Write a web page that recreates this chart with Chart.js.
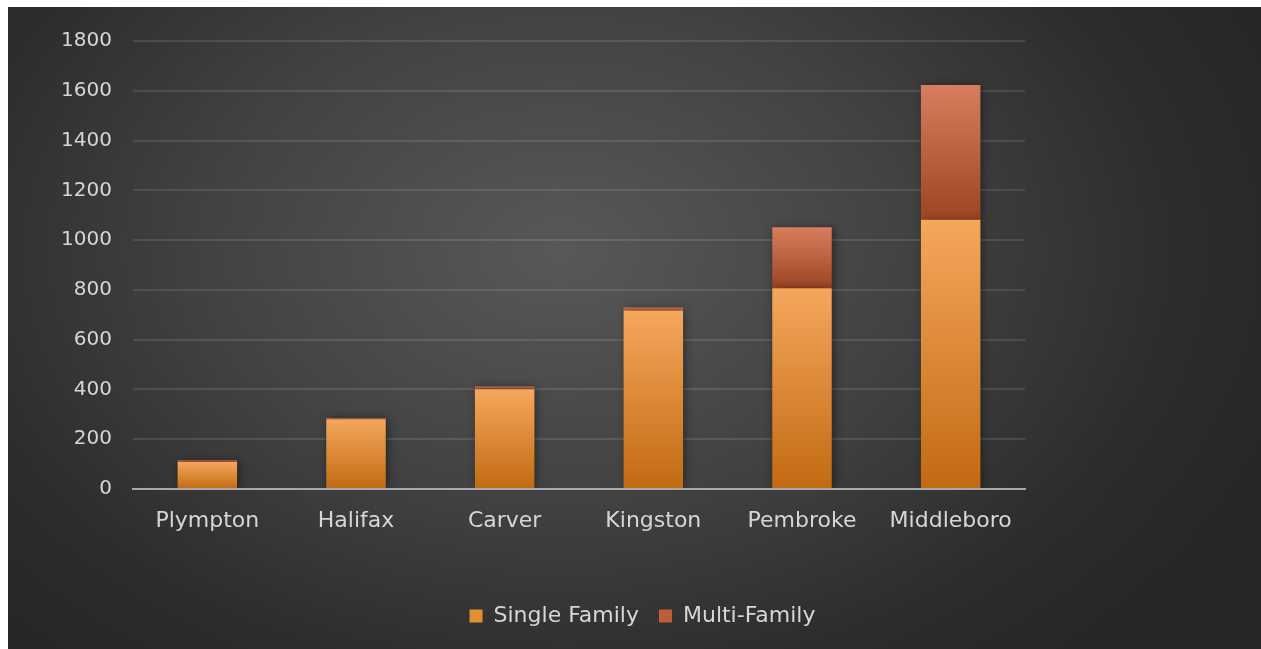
<!DOCTYPE html>
<html>
<head>
<meta charset="utf-8">
<script src="https://cdn.jsdelivr.net/npm/chart.js@4"></script>
<style>
  html, body { margin: 0; padding: 0; background: #ffffff; }
  .card {
    position: absolute;
    left: 8px;
    top: 7px;
    width: 1253px;
    height: 642px;
    background: radial-gradient(ellipse 62% 85% at 44% 38%, #585858 0%, #424242 45%, #2c2c2c 80%, #262626 100%);
  }
  #myChart { display: block; }
</style>
</head>
<body>
<div class="card"><canvas id="myChart" width="1253" height="642"></canvas></div>
<script>
const ctx = document.getElementById("myChart").getContext("2d");

const towns = ["Plympton", "Halifax", "Carver", "Kingston", "Pembroke", "Middleboro"];
const single_family = [108, 280, 401, 717, 807, 1082];
const multi_family = [8, 5, 11, 12, 245, 541];
const y_ticks = [0, 200, 400, 600, 800, 1000, 1200, 1400, 1600, 1800];

const text_color = "#d6d6d6";
const font_family = "'DejaVu Sans', sans-serif";

// per-bar vertical gradient, light on top, dark at the bottom
function barGradient(context, topColor, bottomColor, solid) {
  const chart = context.chart;
  const y = chart.scales.y;
  if (context.type !== "data" || !chart.chartArea || !y) return solid;
  const i = context.dataIndex;
  let from, to;
  if (context.datasetIndex === 0) {
    from = 0;
    to = single_family[i];
  } else {
    from = single_family[i];
    to = single_family[i] + multi_family[i];
  }
  const yTop = y.getPixelForValue(to);
  const yBottom = y.getPixelForValue(from);
  if (!isFinite(yTop) || !isFinite(yBottom) || yTop === yBottom) return solid;
  const g = chart.ctx.createLinearGradient(0, yTop, 0, yBottom);
  g.addColorStop(0, topColor);
  g.addColorStop(1, bottomColor);
  return g;
}

const barShadow = {
  id: "barShadow",
  beforeDatasetsDraw(chart) {
    const c = chart.ctx;
    c.save();
    c.shadowColor = "rgba(0,0,0,0.45)";
    c.shadowBlur = 9;
    c.shadowOffsetX = 2;
    c.shadowOffsetY = 1;
  },
  afterDatasetsDraw(chart) {
    chart.ctx.restore();
  },
};

// legend is centred on the whole card, not only the plot part
const legendWide = {
  id: "legendWide",
  afterLayout(chart) {
    const l = chart.legend;
    if (!l) return;
    l.left = 16;
    l.right = chart.width;
    l.width = l.right - l.left;
  },
};

const obj = {
  type: "bar",
  data: {
    labels: towns,
    datasets: [
      {
        label: "Single Family",
        data: single_family,
        backgroundColor: (c) => barGradient(c, "#f5a75c", "#c26a12", "#e38e33"),
        legendColor: "#e38e33",
        borderWidth: 0,
        categoryPercentage: 1,
        barPercentage: 0.4,
      },
      {
        label: "Multi-Family",
        data: multi_family,
        backgroundColor: (c) => barGradient(c, "#d87e5f", "#9c4522", "#bd5e3a"),
        legendColor: "#bd5e3a",
        borderWidth: 0,
        categoryPercentage: 1,
        barPercentage: 0.4,
      },
    ],
  },
  options: {
    responsive: false,
    animation: false,
    layout: {
      padding: { top: 34, right: 236, bottom: 12, left: 0 },
    },
    scales: {
      x: {
        stacked: true,
        grid: { display: false, drawTicks: false },
        border: { display: true, color: "#a9a9a9", width: 2, z: 1 },
        ticks: {
          color: text_color,
          padding: 19,
          font: { family: font_family, size: 22 },
          maxRotation: 0,
        },
        afterFit: (s) => { s.height = 96; },
      },
      y: {
        stacked: true,
        min: 0,
        max: 1800,
        afterBuildTicks: (s) => { s.ticks = y_ticks.map((v) => ({ value: v })); },
        grid: { color: "rgba(255,255,255,0.11)", lineWidth: 2, drawTicks: false },
        border: { display: false },
        ticks: {
          color: text_color,
          padding: 21,
          font: { family: font_family, size: 20 },
          callback: (v) => String(v),
        },
        afterFit: (s) => { s.width = 125; },
      },
    },
    plugins: {
      tooltip: { enabled: false },
      legend: {
        position: "bottom",
        labels: {
          color: text_color,
          font: { family: font_family, size: 22 },
          boxWidth: 13,
          boxHeight: 13,
          padding: 20,
          generateLabels(chart) {
            return chart.data.datasets.map((d, i) => ({
              text: d.label,
              fillStyle: d.legendColor,
              strokeStyle: d.legendColor,
              lineWidth: 0,
              fontColor: text_color,
              datasetIndex: i,
              hidden: false,
            }));
          },
        },
      },
    },
  },
  plugins: [barShadow, legendWide],
};

let chart = new Chart(ctx, obj);
</script>
</body>
</html>
